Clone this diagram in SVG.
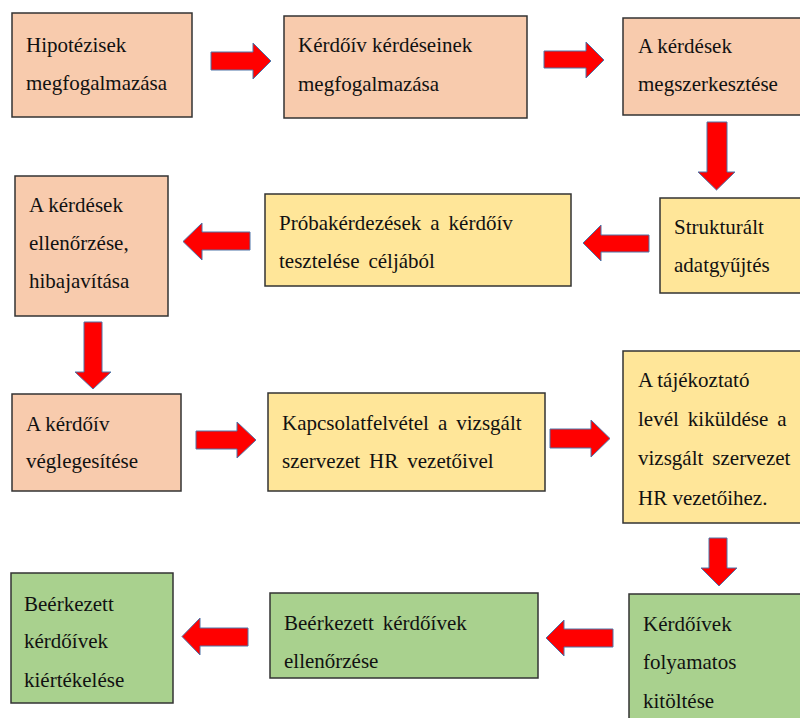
<svg xmlns="http://www.w3.org/2000/svg" width="800" height="718" viewBox="0 0 800 718">
<rect width="800" height="718" fill="#fff"/>
<g stroke="#333" stroke-width="1.5">
<rect id="b1" fill="#F8CBAD" x="12" y="13" width="180" height="104"/>
<rect id="b2" fill="#F8CBAD" x="284" y="16" width="243" height="102"/>
<rect id="b3" fill="#F8CBAD" x="623" y="18" width="190" height="97"/>
<rect id="b4" fill="#FFE699" x="660" y="198" width="150" height="95"/>
<rect id="b5" fill="#FFE699" x="265" y="194" width="306" height="92"/>
<rect id="b6" fill="#F8CBAD" x="15" y="176" width="153" height="140"/>
<rect id="b7" fill="#F8CBAD" x="12" y="394" width="169" height="97"/>
<rect id="b8" fill="#FFE699" x="268" y="393" width="277" height="98"/>
<rect id="b9" fill="#FFE699" x="623" y="351" width="190" height="172"/>
<rect id="b10" fill="#A9D18E" x="629" y="594" width="184" height="140"/>
<rect id="b11" fill="#A9D18E" x="270" y="593" width="268" height="85"/>
<rect id="b12" fill="#A9D18E" x="11" y="573" width="162" height="130"/>
</g>
<g font-family="Liberation Serif" font-size="28" fill="#111">
<g id="n1"><text transform="translate(26,52) scale(0.75)">Hipotézisek</text>
<text transform="translate(26,90) scale(0.75)">megfogalmazása</text></g>
<g id="n2"><text transform="translate(298,52) scale(0.75)">Kérdőív kérdéseinek</text>
<text transform="translate(298,91) scale(0.75)">megfogalmazása</text></g>
<g id="n3"><text transform="translate(638,53) scale(0.75)">A kérdések</text>
<text transform="translate(638,91) scale(0.75)">megszerkesztése</text></g>
<g id="n4"><text transform="translate(674,234) scale(0.75)">Strukturált</text>
<text transform="translate(674,272) scale(0.75)">adatgyűjtés</text></g>
<g id="n5"><text transform="translate(279,230) scale(0.75)" word-spacing="5">Próbakérdezések a kérdőív</text>
<text transform="translate(279,268) scale(0.75)" word-spacing="5">tesztelése céljából</text></g>
<g id="n6"><text transform="translate(29,212) scale(0.75)">A kérdések</text>
<text transform="translate(29,250) scale(0.75)">ellenőrzése,</text>
<text transform="translate(29,288) scale(0.75)">hibajavítása</text></g>
<g id="n7"><text transform="translate(26,431) scale(0.75)">A kérdőív</text>
<text transform="translate(26,468) scale(0.75)">véglegesítése</text></g>
<g id="n8"><text transform="translate(282,430) scale(0.75)" word-spacing="5">Kapcsolatfelvétel a vizsgált</text>
<text transform="translate(282,468) scale(0.75)" word-spacing="5">szervezet HR vezetőivel</text></g>
<g id="n9"><text transform="translate(638,387) scale(0.75)">A tájékoztató</text>
<text transform="translate(638,426) scale(0.75)" word-spacing="5">levél kiküldése a</text>
<text transform="translate(638,465) scale(0.75)" word-spacing="5">vizsgált szervezet</text>
<text transform="translate(638,505) scale(0.75)">HR vezetőihez.</text></g>
<g id="n10"><text transform="translate(643,631) scale(0.75)">Kérdőívek</text>
<text transform="translate(643,669) scale(0.75)">folyamatos</text>
<text transform="translate(643,708) scale(0.75)">kitöltése</text></g>
<g id="n11"><text transform="translate(284,630) scale(0.75)" word-spacing="5">Beérkezett kérdőívek</text>
<text transform="translate(284,668) scale(0.75)">ellenőrzése</text></g>
<g id="n12"><text transform="translate(24,611) scale(0.75)">Beérkezett</text>
<text transform="translate(24,648) scale(0.75)">kérdőívek</text>
<text transform="translate(24,687) scale(0.75)">kiértékelése</text></g>
</g>
<g id="connectors" fill="#FF0000" stroke="#4F74A8" stroke-width="1">
<polygon points="211,52 253,52 253,43 271,61 253,79 253,70 211,70"/>
<polygon points="544,51 586,51 586,42 604,60 586,78 586,68 544,68"/>
<polygon points="707,122 727,122 727,172 735,172 716.5,190 698,172 707,172"/>
<polygon points="649,235 601,235 601,225 583,243 601,261 601,252 649,252"/>
<polygon points="250,232 202,232 202,223 183,241.5 202,260 202,250 250,250"/>
<polygon points="84,322 102,322 102,372 111,372 93,389 75,372 84,372"/>
<polygon points="196,431 237,431 237,422 256,440 237,458 237,449 196,449"/>
<polygon points="550,429 591,429 591,420 610,438.5 591,457 591,448 550,448"/>
<polygon points="709,538 727,538 727,568 737,568 719,586 701,568 709,568"/>
<polygon points="613,629 564,629 564,620 546,638 564,656 564,647 613,647"/>
<polygon points="248,628 200,628 200,618 182,636.5 200,655 200,646 248,646"/>
</g>
</svg>
